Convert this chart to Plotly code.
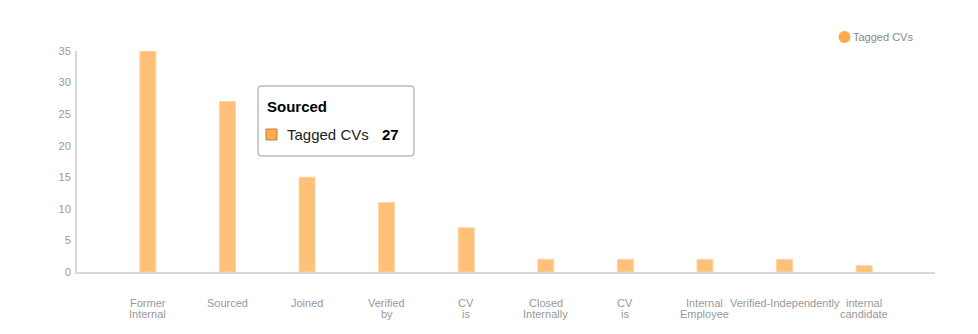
import plotly.graph_objects as go

categories = ["Former<br>Internal", "Sourced", "Joined", "Verified<br>by", "CV<br>is",
              "Closed<br>Internally", "CV<br>is", "Internal<br>Employee",
              "Verified-Independently", "internal<br>candidate"]
tagged_cvs = [35, 27, 15, 11, 7, 2, 2, 2, 2, 1]
y_ticks = [0, 5, 10, 15, 20, 25, 30, 35]
series_name = "Tagged CVs"

x_idx = list(range(len(categories)))

W, H = 978, 334
L, R, T, B = 77, 43, 51, 62
plot_w = W - L - R
plot_h = H - T - B
FONT = "Arial, Liberation Sans, sans-serif"


def px(x):
    return (x - L) / plot_w


def py(y):
    return (H - B - y) / plot_h


def rounded_rect(x0, y0, x1, y1, r):
    """SVG path (paper units) for a rounded rectangle given in pixels."""
    rx, ry = r / plot_w, r / plot_h
    a, b, c, d = px(x0), px(x1), py(y1), py(y0)  # left, right, bottom, top
    return (f"M{a + rx},{d} L{b - rx},{d} Q{b},{d} {b},{d - ry} "
            f"L{b},{c + ry} Q{b},{c} {b - rx},{c} L{a + rx},{c} "
            f"Q{a},{c} {a},{c + ry} L{a},{d - ry} Q{a},{d} {a + rx},{d} Z")


fig = go.Figure()
fig.add_trace(go.Bar(
    x=x_idx, y=tagged_cvs, width=0.2, name=series_name,
    marker=dict(color="#ffc07a", line=dict(color="#ffd3a3", width=1)),
    showlegend=False, hoverinfo="skip",
))

# category labels, one annotation per text line for tight line spacing
for i, lab in enumerate(categories):
    for j, line in enumerate(lab.split("<br>")):
        fig.add_annotation(xref="x", yref="paper", x=i, y=py(302.5 + 11 * j),
                           text=line, showarrow=False, xanchor="center",
                           yanchor="middle",
                           font=dict(family=FONT, size=11, color="#999"))

# legend: round swatch + label
fig.add_shape(type="circle", xref="paper", yref="paper",
              xsizemode="pixel", ysizemode="pixel",
              xanchor=px(844.5), yanchor=py(37),
              x0=-6, x1=6, y0=-6, y1=6,
              line=dict(width=0), fillcolor="#ffa94d")
fig.add_annotation(xref="paper", yref="paper", x=px(851), y=py(37),
                   text=series_name, showarrow=False,
                   xanchor="left", yanchor="middle",
                   font=dict(family=FONT, size=11, color="#888"))

# tooltip box for the "Sourced" bar
tip_i = 1
fig.add_shape(type="path", xref="paper", yref="paper",
              path=rounded_rect(258, 86, 414, 156, 3),
              line=dict(color="#999", width=1), fillcolor="white", layer="above")
fig.add_shape(type="rect", xref="paper", yref="paper",
              x0=px(266), x1=px(277), y0=py(140), y1=py(129),
              line=dict(color="#b88040", width=1), fillcolor="#ffaa4f", layer="above")
fig.add_annotation(xref="paper", yref="paper", x=px(265), y=py(106),
                   text="<b>" + categories[tip_i] + "</b>", showarrow=False,
                   xanchor="left", yanchor="middle",
                   font=dict(family=FONT, size=15, color="#000"))
fig.add_annotation(xref="paper", yref="paper", x=px(285), y=py(134),
                   text=series_name, showarrow=False,
                   xanchor="left", yanchor="middle",
                   font=dict(family=FONT, size=15, color="#222"))
fig.add_annotation(xref="paper", yref="paper", x=px(380), y=py(134),
                   text="<b>" + str(tagged_cvs[tip_i]) + "</b>", showarrow=False,
                   xanchor="left", yanchor="middle",
                   font=dict(family=FONT, size=15, color="#000"))

fig.update_layout(
    width=W, height=H,
    margin=dict(l=L, r=R, t=T, b=B),
    paper_bgcolor="white", plot_bgcolor="white",
    font=dict(family=FONT, size=11, color="#999"),
    showlegend=False,
    xaxis=dict(
        range=[-0.89, len(categories) - 1 + 0.89],
        tickmode="array", tickvals=x_idx, showticklabels=False,
        showgrid=False, zeroline=False,
        showline=True, linecolor="#d9d9d9", linewidth=2, ticks="",
    ),
    yaxis=dict(
        range=[0, 35], tickmode="array", tickvals=y_ticks,
        showgrid=False, zeroline=False,
        showline=True, linecolor="#d9d9d9", linewidth=2,
        ticks="", ticklabelstandoff=2,
        tickfont=dict(family=FONT, size=11, color="#999"),
    ),
)

fig.write_html("out.html")
